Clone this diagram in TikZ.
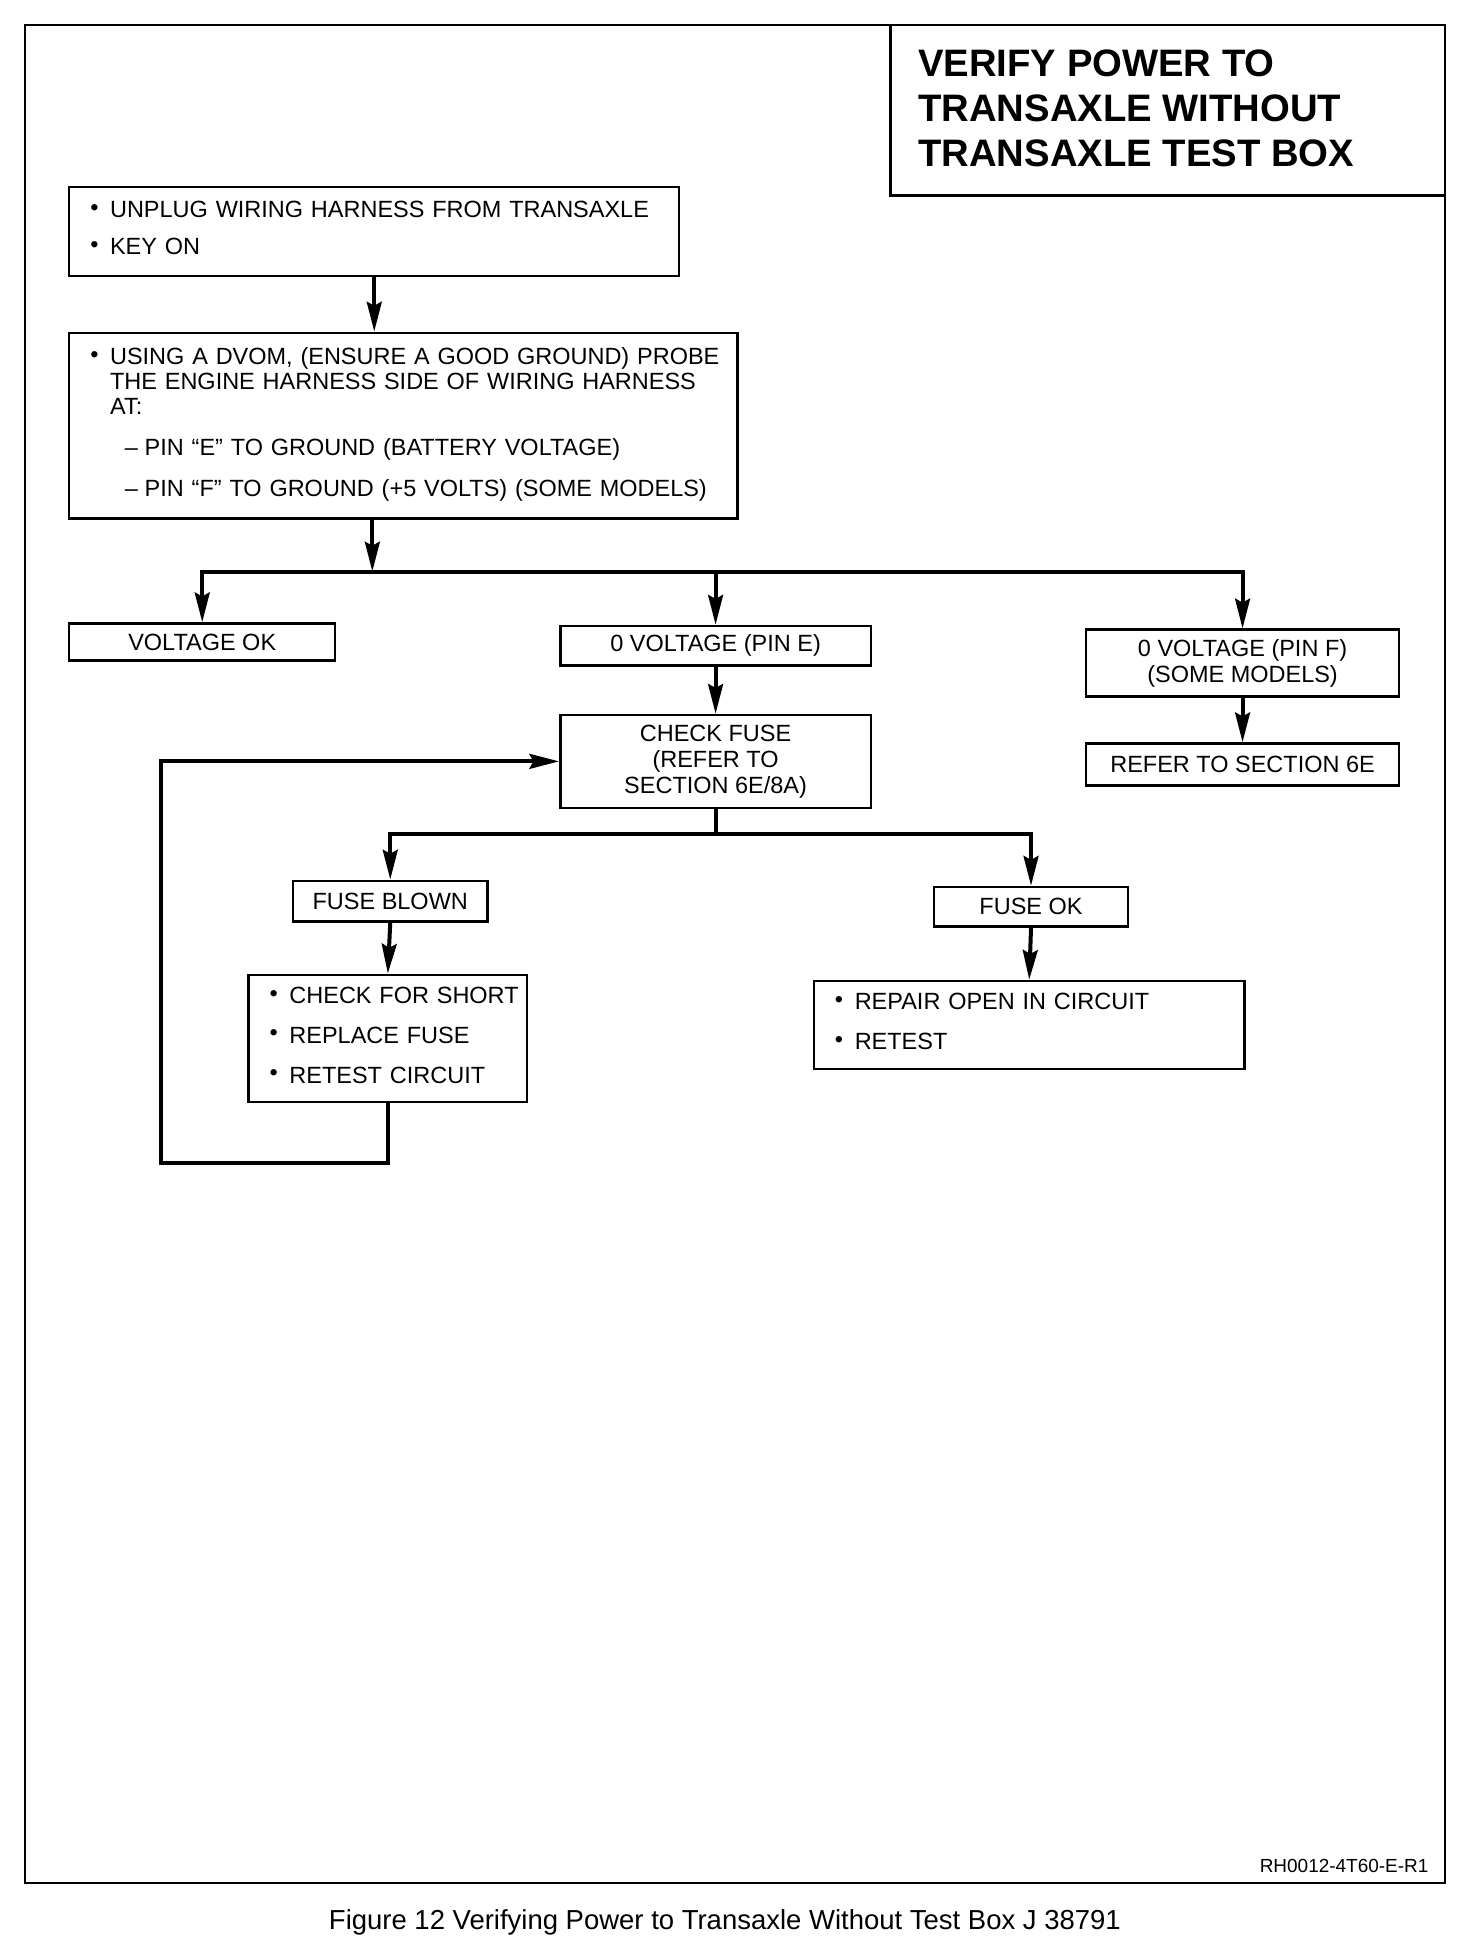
\documentclass[tikz,border=0pt]{standalone}
\usepackage{fontspec}
\setmainfont{Liberation Sans}
\usetikzlibrary{arrows.meta}

\newcommand\boxtext{\fontsize{13.5}{14.2}\selectfont}
\newcommand\titletext{\bfseries\fontsize{22}{25.9}\selectfont}
\newcommand\bul{\raisebox{0.2ex}{\textbullet}}

\tikzset{
 box/.style={draw, line width=1.4pt, inner sep=0pt, anchor=north west, font=\boxtext},
 size/.style 2 args={minimum width=#1*0.025cm, minimum height=#2*0.025cm},
 list/.style={inner xsep=0.425cm, align=left},
 link/.style={line width=2.3pt},
 arrow/.style={link, -{Stealth[length=0.6cm, width=0.3cm, inset=0.08cm]}},
}

\begin{document}
\begin{tikzpicture}[x=0.025cm, y=-0.025cm]
 \useasboundingbox (0,0) rectangle (1190,1568.3);
 % frame and title
 \draw[line width=1.4pt] (20,20) rectangle (1168,1522);
 \draw[line width=1.4pt] (720,20) -- (720,158) -- (1168,158);
 \node (title) [anchor=north west, inner sep=0pt, align=left, font=\titletext] at (742,40)
  {VERIFY POWER TO\\TRANSAXLE WITHOUT\\TRANSAXLE TEST BOX};

 % boxes
 \node (unplug) [box, size={493}{72}, list, text width=11.475cm] at (55,150) {%
  \begin{tabular}{@{}p{0.4cm}@{}l@{}}
  \bul & UNPLUG WIRING HARNESS FROM TRANSAXLE\\[7.1pt]
  \bul & KEY ON
  \end{tabular}};
 \node (probe) [box, size={540}{150}, list, text width=12.65cm] at (55,268) {%
  \begin{tabular}{@{}p{0.4cm}@{}l@{}}
  \bul & USING A DVOM, (ENSURE A GOOD GROUND) PROBE\\
   & THE ENGINE HARNESS SIDE OF WIRING HARNESS\\
   & AT:\\[9.3pt]
   & \hspace{0.3cm}\makebox[0.4cm][l]{--}PIN “E” TO GROUND (BATTERY VOLTAGE)\\[9.3pt]
   & \hspace{0.3cm}\makebox[0.4cm][l]{--}PIN “F” TO GROUND (+5 VOLTS) (SOME MODELS)
  \end{tabular}};
 \node (volok) [box, size={215}{30}] at (55,503) {VOLTAGE OK};
 \node (pine) [box, size={251}{32}] at (452,505) {0 VOLTAGE (PIN E)};
 \node (pinf) [box, size={253}{54}, align=center, font={\fontsize{13.5}{14.9}\selectfont}] at (877,508)
  {0 VOLTAGE (PIN F)\\(SOME MODELS)};
 \node (refer) [box, size={253}{34}] at (877,600) {REFER TO SECTION 6E};
 \node (fuse) [box, size={251}{75}, align=center, font={\fontsize{13.5}{14.9}\selectfont}] at (452,577)
  {CHECK FUSE\\(REFER TO\\SECTION 6E/8A)};
 \node (blown) [box, size={157}{33}] at (236,711) {FUSE BLOWN};
 \node (fuseok) [box, size={157}{32}] at (754,716) {FUSE OK};
 \node (short) [box, size={225}{103}, list, text width=4.775cm] at (200,787) {%
  \begin{tabular}{@{}p{0.4cm}@{}l@{}}
  \bul & CHECK FOR SHORT\\[8.6pt]
  \bul & REPLACE FUSE\\[8.6pt]
  \bul & RETEST CIRCUIT
  \end{tabular}};
 \node (repair) [box, size={348}{71}, list, text width=7.85cm] at (657,792) {%
  \begin{tabular}{@{}p{0.4cm}@{}l@{}}
  \bul & REPAIR OPEN IN CIRCUIT\\[8.6pt]
  \bul & RETEST
  \end{tabular}};

 % labels
 \node (code) [anchor=base east, inner sep=0pt, font=\fontsize{10.9}{12}\selectfont] at (1155,1514) {RH0012-4T60-E-R1};
 \node (caption) [anchor=base, inner sep=0pt, font=\fontsize{15.8}{18}\selectfont] at (586,1560)
  {Figure 12 Verifying Power to Transaxle Without Test Box J 38791};

 % coordinates
 \coordinate (split) at (301,462);
 \coordinate (fork) at ([yshift=-0.5cm]fuse.south);
 \coordinate (loop) at (130,940);

 % connectors
 \draw[arrow] (unplug.south) -- (unplug.south |- probe.north);
 \draw[arrow] (probe.south -| split) -- (split);
 \foreach \n in {volok,pine,pinf} {
  \draw[arrow] (split) -| (\n.north);
 };
 \draw[arrow] (pine.south) -- (fuse.north);
 \draw[arrow] (pinf.south) -- (refer.north);
 \draw[link] (fuse.south) -- (fork);
 \foreach \n in {blown,fuseok} {
  \draw[arrow] (fork) -| (\n.north);
 };
 \draw[arrow] (blown.south) -- (short.north);
 \draw[arrow] (fuseok.south) -- (repair.north);
 \draw[arrow] (short.south) |- (loop) |- (fuse.west);
\end{tikzpicture}
\end{document}
